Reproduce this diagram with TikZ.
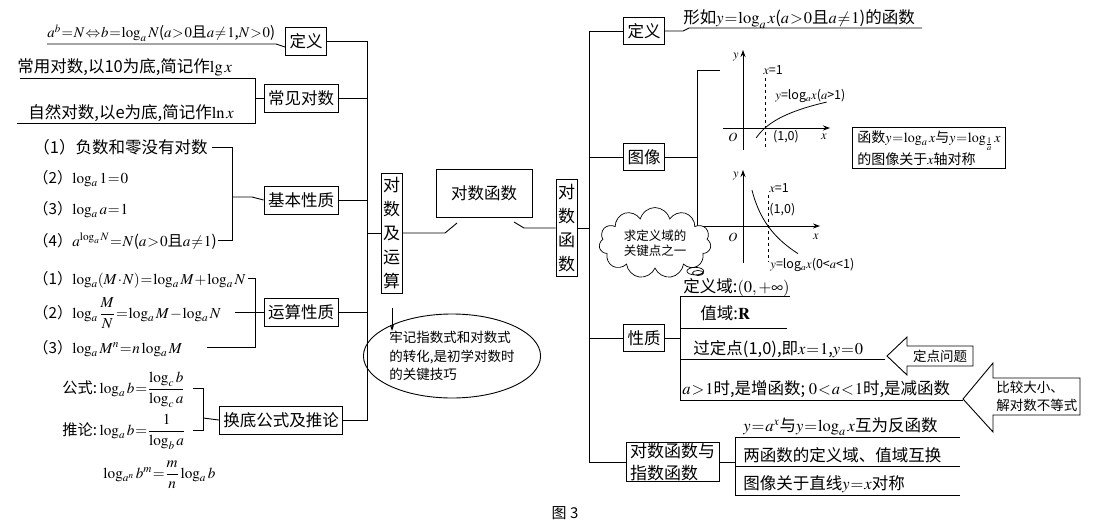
\RequirePackage{fix-cm}
\documentclass[tikz,border=0pt]{standalone}
\usepackage{amsmath}
\usepackage{mathptmx}
\usepackage[no-math]{fontspec}
\setmainfont{Noto Sans CJK SC}
\usetikzlibrary{shapes.geometric,shapes.symbols,shapes.callouts,arrows.meta,calc,positioning}
\newcommand\bigtxt{\fontsize{16.5}{20}\selectfont}
\newcommand\formtxt{\fontsize{15.2}{18}\selectfont}
\newcommand\midtxt{\fontsize{13.5}{18.5}\selectfont}
\newcommand\smltxt{\fontsize{12.5}{15}\selectfont}
\medmuskip=1mu
\thickmuskip=1mu

\begin{document}
\begin{tikzpicture}[x=1pt,y=-1pt,line width=0.9pt,
 box/.style={draw,font=\bigtxt,inner xsep=4pt,inner ysep=2pt,minimum height=28pt},
 vbox/.style={draw,font=\fontsize{17}{24}\selectfont,align=center,inner sep=2pt,text width=17pt},
 txt/.style={anchor=base west,inner sep=0pt,font=\bigtxt},
 form/.style={txt,font=\formtxt},
 lbl/.style={inner sep=0pt,font=\smltxt},
 axis/.style={-{Stealth[length=7pt,width=5pt]},line width=0.8pt}]
\useasboundingbox (0,0) rectangle (1100,527);

% left half
\node[box] (defL) at (306,41) {定义};
\node[box] (com) at (301,98) {常见对数};
\node[box] (bas) at (301,200) {基本性质};
\node[box] (ops) at (301,312) {运算性质};
\node[box] (chb) at (281,420) {换底公式及推论};
\node[vbox,minimum height=120pt] (logop) at (391.5,233) {对\\数\\及\\运\\算};
\node[box,minimum width=96pt,minimum height=48pt] (func) at (484,193) {对数函数};
\node[vbox,minimum height=97pt] (funcV) at (566.5,228) {对\\数\\函\\数};

\coordinate (tL) at (367,0);
\draw (defL) -- (defL -| tL) -- (chb.east -| tL) -- (chb);
\draw (com) -- (com -| tL);
\draw (bas) -- (bas -| tL);
\draw (ops) -- (ops -| tL);
\draw (logop) -- (logop -| tL);

\coordinate (gapL) at (457,223);
\coordinate (gapR) at (514,222);
\draw (logop.east) -- (445,233) -- (gapL);
\draw (gapR) -- (524,228) -- (funcV.west);

% definition
\node[form,font=\fontsize{14.8}{18}\selectfont] (defLt) at (47,38) {$a^b=N\Leftrightarrow b=\log_a N$($a>0$且$a\neq1$,$N>0$)};
\draw (47,44) -- (276,44) -- ([yshift=-6pt]defL.west);

% common logs
\node[txt] (com1) at (17,73) {常用对数,以10为底,简记作$\lg x$};
\node[txt] (com2) at (28,118) {自然对数,以e为底,简记作$\ln x$};
\draw (20,78) -- (255,78) -- (255,123) -- (17,123);
\draw (255,98) -- (com);

% basic properties
\node[txt] (b1) at (33,153) {（1）负数和零没有对数};
\node[form] (b2) at (33,183) {（2）$\log_a 1=0$};
\node[form] (b3) at (33,214) {（3）$\log_a a=1$};
\node[form] (b4) at (33,246) {（4）$a^{\log_a N}=N$($a>0$且$a\neq1$)};
\draw (212,147) -| (232,240) -- (218,240);
\draw (232,197) -- (252,197) -- (bas.west);

% operation rules
\node[form] (o1) at (33,284) {（1）$\log_a(M\cdot N)=\log_a M+\log_a N$};
\node[form] (o2) at (33,318) {（2）$\log_a\dfrac{M}{N}=\log_a M-\log_a N$};
\node[form] (o3) at (33,353) {（3）$\log_a M^n=n\log_a M$};
\draw (248,278) -| (255,347) -- (207,347);
\draw (235,312) -- (ops.west);

% change of base
\node[form] (c1) at (62,393) {公式:\,$\log_a b=\dfrac{\log_c b}{\log_c a}$};
\node[form] (c2) at (62,435) {推论:\,$\log_a b=\dfrac{1}{\log_b a}$};
\node[form] (c3) at (103,478) {$\log_{a^n} b^m=\dfrac{m}{n}\log_a b$};
\draw (193,388) -- (203,388) -- (203,430) -- (193,430);
\draw (203,418) -- (chb.west);

% hint
\node[ellipse,draw,minimum width=164pt,minimum height=84pt,inner sep=0pt,
 font=\midtxt,align=left] (hint) at (452,356) {牢记指数式和对数式\\的转化,是初学对数时\\的关键技巧};
\draw[-{Stealth[length=6pt,width=4pt]}] (392,308) -- (392,331);

% right half
\node[box,minimum height=27pt] (defR) at (644,31) {定义};
\node[box,minimum height=27pt] (img) at (644,157) {图像};
\node[box,minimum height=27pt] (prop) at (644,338) {性质};
\node[box,align=left,inner ysep=1pt,font=\fontsize{17}{22}\selectfont] (rel) at (672.5,462) {对数函数与\\指数函数};

\coordinate (tR) at (589,0);
\draw (defR) -- (defR -| tR) -- (rel.west -| tR) -- (rel);
\draw (img) -- (img -| tR);
\draw (prop) -- (prop -| tR);
\draw (funcV) -- (funcV -| tR);

\node[txt] (defRt) at (683,24) {形如$y=\log_a x$($a>0$且$a\neq1$)的函数};
\draw (defR) -- (683,31) -- (689,28) -- (922,28);

% graphs
\draw (img) -- (697,157);
\draw (720,70) -- (697,70) -- (697,226) -- (720,226);
\draw[axis] (723,128) -- (830,128);
\draw[axis] (743,150) -- (743,50);
\draw[dashed,line width=0.8pt] (765,78) -- (765,150);
\draw[line width=0.8pt] plot[domain=0.6:3.8,samples=40,smooth] ({743+22*\x},{128-19.4*ln(\x)});
\node[lbl] (y1) at (736,57) {$y$};
\node[lbl] (o1g) at (733,137) {$O$};
\node[lbl] (p1) at (786,137) {(1,0)};
\node[lbl] (x1) at (824,137) {$x$};
\node[lbl] (d1) at (773,70) {$x$=1};
\node[lbl,anchor=west] (f1) at (775,96) {$y$=log$_a x$($a$>1)};

\draw[axis] (720,226) -- (820,226);
\draw[axis] (743,263) -- (743,170);
\draw[dashed,line width=0.8pt] (768,195) -- (768,262);
\draw[line width=0.8pt] plot[domain=0.36:2.2,samples=40,smooth] ({743+25*\x},{226+35*ln(\x)});
\node[lbl] (y2) at (736,176) {$y$};
\node[lbl] (o2g) at (733,237) {$O$};
\node[lbl,anchor=west] (p2) at (769,210) {(1,0)};
\node[lbl] (x2) at (816,237) {$x$};
\node[lbl] (d2) at (779,188) {$x$=1};
\node[lbl,anchor=west] (f2) at (770,265) {$y$=log$_a x$(0<$a$<1)};

\node[draw,font=\fontsize{14}{22}\selectfont,align=left,inner xsep=5pt,inner ysep=3pt]
 (sym) at (929,148) {函数$y=\log_a x$与$y=\log_{\frac{1}{a}}x$\\的图像关于$x$轴对称};

\node[cloud callout,draw,fill=white,cloud puffs=11,aspect=2.1,inner xsep=6pt,inner ysep=3pt,
 line width=0.7pt,font=\smltxt,align=center,callout absolute pointer={(698,273)}]
 (cloud) at (655,243) {求定义域的\\关键点之一};

% properties
\node[txt] (dom) at (683,292) {定义域:$(0,+\infty)$};
\node[txt] (ran) at (700,319) {值域:$\mathbf{R}$};
\node[txt] (fix) at (693,354) {过定点(1,0),即$x=1$,$y=0$};
\node[txt] (mono) at (682,394) {$a>1$时,是增函数; $0<a<1$时,是减函数};
\draw (prop) -- (680,338);
\draw (790,296) -- (680,296) -- (680,400) -- (963,400);
\draw (680,328) -- (787,328);
\draw (680,359) -- (885,359);

\draw (887,356) -- (907,337) -- (907,346) -- (973,346) -- (973,366) -- (907,366) -- (907,375) -- cycle;
\node[lbl,font=\midtxt] (fixq) at (940,356) {定点问题};
\draw (963,399) -- (993,363) -- (993,378) -- (1080,378) -- (1080,415) -- (993,415) -- (993,432) -- cycle;
\node[lbl,font=\midtxt,align=left,anchor=west] (cmpq) at (996,396.5) {比较大小、\\解对数不等式};

% inverse functions
\node[txt] (r1) at (743,431) {$y=a^x$与$y=\log_a x$互为反函数};
\node[txt] (r2) at (743,461) {两函数的定义域、值域互换};
\node[txt] (r3) at (743,489) {图像关于直线$y=x$对称};
\draw (rel) -- (735,462);
\draw (960,437) -- (735,437) -- (735,495) -- (960,495);
\draw (735,466) -- (960,466);

\node[font=\fontsize{15}{18}\selectfont] (cap) at (565,513) {图 3};
\end{tikzpicture}
\end{document}
